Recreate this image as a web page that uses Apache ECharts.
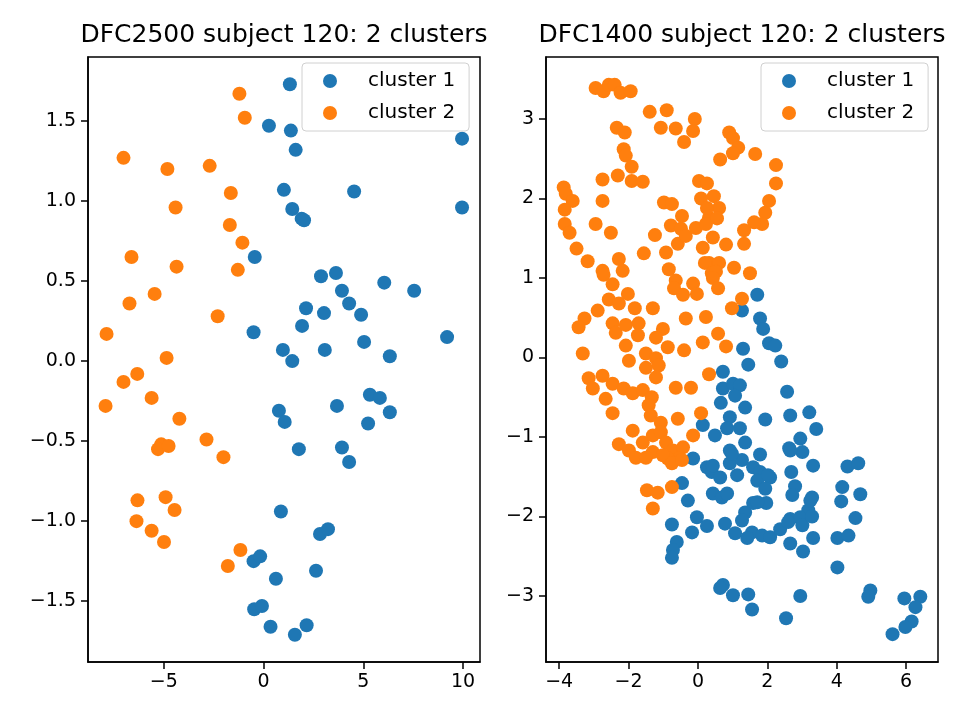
<!DOCTYPE html>
<html>
<head>
    <meta charset="utf-8">
    <title>DFC subject 120 clusters</title>
    <script src="https://cdn.jsdelivr.net/npm/echarts@6/dist/echarts.min.js"></script>
    <style>
        html, body { margin: 0; padding: 0; background: #fff; }
        #chart { width: 960px; height: 720px; }
    </style>
</head>
<body>
    <div id="chart"></div>
    <script>
        // DFC2500 panel
        var leftCluster1 = [[1.32,1.73],[0.27,1.47],[1.37,1.44],[1.61,1.32],[9.95,1.39],[1.02,1.07],[4.54,1.06],[1.44,0.95],[1.91,0.89],[2.03,0.88],[9.95,0.96],[-0.44,0.65],[2.88,0.53],[3.63,0.55],[3.93,0.44],[6.05,0.49],[7.55,0.44],[4.29,0.36],[2.13,0.33],[3.03,0.30],[4.89,0.29],[1.93,0.22],[9.20,0.15],[5.04,0.12],[-0.50,0.18],[0.97,0.07],[3.07,0.07],[6.33,0.03],[1.44,0.00],[5.33,-0.21],[5.83,-0.23],[3.68,-0.28],[6.33,-0.32],[5.24,-0.39],[0.77,-0.31],[1.06,-0.38],[1.77,-0.55],[3.93,-0.54],[4.29,-0.63],[0.87,-0.94],[2.83,-1.08],[3.23,-1.05],[2.63,-1.31],[-0.50,-1.25],[-0.17,-1.22],[0.62,-1.36],[-0.47,-1.55],[-0.08,-1.53],[0.35,-1.66],[2.16,-1.65],[1.57,-1.71]];
        var leftCluster2 = [[-1.21,1.67],[-0.94,1.52],[-7.02,1.27],[-4.82,1.20],[-2.70,1.22],[-1.64,1.05],[-4.41,0.96],[-1.69,0.85],[-1.06,0.74],[-6.62,0.65],[-4.36,0.59],[-1.29,0.57],[-5.46,0.42],[-6.72,0.36],[-2.30,0.28],[-7.87,0.17],[-4.86,0.02],[-6.33,-0.08],[-7.02,-0.13],[-5.61,-0.23],[-7.92,-0.28],[-4.22,-0.36],[-5.13,-0.52],[-5.29,-0.55],[-4.76,-0.53],[-2.86,-0.49],[-2.01,-0.60],[-6.32,-0.87],[-4.91,-0.85],[-4.46,-0.93],[-6.37,-1.00],[-5.61,-1.06],[-4.99,-1.13],[-1.16,-1.18],[-1.79,-1.28]];

        // DFC1400 panel
        var rightCluster1 = [[1.71,0.79],[1.27,0.59],[1.79,0.49],[1.88,0.36],[1.30,0.11],[2.05,0.18],[2.23,0.15],[1.45,-0.09],[2.40,-0.05],[0.72,-0.18],[0.72,-0.39],[1.01,-0.33],[1.21,-0.35],[1.07,-0.48],[0.66,-0.57],[1.36,-0.63],[0.92,-0.75],[1.94,-0.78],[2.57,-0.43],[2.66,-0.73],[3.21,-0.69],[3.41,-0.90],[0.14,-0.85],[0.49,-0.98],[0.84,-0.89],[1.21,-0.89],[1.36,-1.07],[0.92,-1.17],[2.95,-1.02],[2.63,-1.14],[3.01,-1.19],[1.79,-1.22],[-0.14,-1.27],[0.26,-1.38],[0.40,-1.44],[0.92,-1.33],[1.27,-1.29],[0.43,-1.36],[1.59,-1.38],[0.64,-1.51],[1.13,-1.48],[1.79,-1.44],[2.08,-1.51],[1.71,-1.55],[-0.46,-1.58],[0.98,-1.21],[2.66,-1.17],[3.32,-1.36],[4.31,-1.37],[4.62,-1.33],[2.69,-1.44],[2.02,-1.48],[2.80,-1.62],[4.16,-1.63],[4.68,-1.72],[1.94,-1.65],[2.72,-1.73],[3.29,-1.76],[4.13,-1.81],[1.59,-1.83],[1.97,-1.83],[3.18,-1.92],[4.54,-2.02],[1.36,-1.95],[2.66,-2.03],[0.43,-1.71],[0.69,-1.76],[0.84,-1.71],[-0.29,-1.80],[1.71,-1.82],[2.95,-2.01],[1.27,-2.05],[-0.03,-2.01],[0.78,-2.09],[-0.75,-2.10],[0.26,-2.12],[1.07,-2.21],[1.56,-2.20],[1.42,-2.27],[1.85,-2.24],[2.08,-2.26],[2.37,-2.16],[2.60,-2.07],[3.01,-2.11],[2.66,-2.34],[3.03,-2.44],[3.32,-2.27],[-0.17,-2.20],[-0.61,-2.32],[-0.72,-2.42],[-0.75,-2.52],[3.24,-1.80],[4.02,-2.27],[4.34,-2.24],[4.02,-2.64],[0.72,-2.86],[0.64,-2.90],[1.01,-2.99],[1.45,-2.98],[1.56,-3.17],[2.95,-3.00],[2.54,-3.28],[4.97,-2.93],[4.91,-3.01],[5.95,-3.03],[6.41,-3.01],[6.27,-3.14],[6.16,-3.32],[5.98,-3.39],[5.61,-3.48],[3.29,-2.00]];
        var rightCluster2 = [[-2.95,3.39],[-2.72,3.35],[-2.57,3.43],[-2.40,3.43],[-2.23,3.33],[-1.94,3.35],[-1.39,3.09],[-0.90,3.11],[-0.09,3.00],[-1.07,2.89],[-0.64,2.88],[-0.14,2.85],[-0.40,2.71],[-2.34,2.89],[-2.11,2.83],[-2.14,2.62],[-2.08,2.54],[-1.91,2.40],[-2.75,2.24],[-2.31,2.29],[-1.91,2.22],[-1.59,2.21],[-3.87,2.14],[-3.81,2.06],[-3.61,1.97],[-3.84,1.86],[-2.75,1.97],[-3.84,1.68],[-3.70,1.57],[-2.95,1.68],[-2.51,1.57],[-3.50,1.37],[-3.18,1.21],[-2.28,1.24],[-2.75,1.09],[-1.56,1.31],[-0.92,1.32],[-1.24,1.54],[-0.98,1.95],[-0.75,1.93],[-0.46,1.78],[-0.78,1.66],[-0.49,1.62],[-0.58,1.43],[-0.35,1.53],[-0.06,1.63],[0.03,2.22],[0.26,2.19],[0.09,2.00],[0.46,2.03],[0.61,1.88],[0.32,1.76],[0.23,1.68],[0.43,1.51],[0.14,1.38],[0.81,1.42],[0.32,1.19],[0.61,1.19],[1.04,1.13],[0.90,2.83],[1.01,2.76],[1.16,2.64],[1.01,2.57],[0.64,2.49],[1.33,1.60],[1.33,1.43],[1.65,2.56],[2.25,2.42],[2.25,2.19],[2.05,1.97],[1.94,1.82],[1.85,1.68],[1.62,1.70],[1.50,1.06],[1.27,0.74],[0.98,0.62],[0.26,1.88],[0.55,1.75],[0.20,1.19],[0.40,1.06],[-2.72,1.04],[-2.17,1.09],[-2.46,0.92],[-2.02,0.80],[-2.57,0.73],[-2.28,0.68],[-2.89,0.59],[-1.82,0.62],[-1.30,0.62],[-3.27,0.49],[-3.44,0.38],[-2.46,0.43],[-2.37,0.31],[-2.08,0.41],[-1.71,0.43],[-1.01,0.36],[-1.73,0.28],[-1.21,0.25],[-2.08,0.15],[-0.87,0.13],[-3.32,0.05],[-1.99,-0.04],[-1.50,0.05],[-1.21,-0.01],[-1.50,-0.13],[-1.13,-0.10],[-1.21,-0.25],[-3.15,-0.26],[-2.75,-0.23],[-3.03,-0.39],[-2.46,-0.33],[-2.14,-0.39],[-1.88,-0.45],[-1.59,-0.41],[-1.33,-0.50],[-2.66,-0.52],[-2.46,-0.70],[-1.42,-0.60],[-1.36,-0.73],[-1.07,-0.82],[-0.58,-0.77],[-0.64,-0.38],[-0.20,-0.38],[-0.35,0.49],[0.23,0.51],[0.58,0.30],[0.14,0.19],[0.81,0.14],[-0.40,0.09],[0.32,-0.21],[0.09,-0.70],[-0.14,-0.98],[-0.84,1.11],[-0.64,0.97],[-0.69,0.87],[-0.43,0.79],[-0.14,0.93],[-0.03,0.80],[0.52,1.08],[0.43,1.00],[0.58,0.87],[-1.88,-0.92],[-2.28,-1.09],[-1.99,-1.17],[-1.59,-1.07],[-1.30,-0.98],[-1.07,-0.94],[-0.92,-1.07],[-0.72,-1.17],[-0.43,-1.13],[-1.30,-1.19],[-0.55,-1.27],[-0.87,-1.27],[-1.79,-1.26],[-1.50,-1.26],[-1.01,-1.23],[-0.75,-1.33],[-0.46,-1.29],[-1.47,-1.67],[-1.16,-1.70],[-0.75,-1.63],[-1.30,-1.90]];

        // tick labels
        var leftXTicks = [-5, 0, 5, 10];
        var leftYTicks = [-1.5, -1.0, -0.5, 0.0, 0.5, 1.0, 1.5];
        var rightXTicks = [-4, -2, 0, 2, 4, 6];
        var rightYTicks = [-3, -2, -1, 0, 1, 2, 3];

        var titles = ['DFC2500 subject 120: 2 clusters', 'DFC1400 subject 120: 2 clusters'];
        var seriesNames = ['cluster 1', 'cluster 2'];

        var FONT = 'DejaVu Sans';
        var BLUE = '#1f77b4';
        var ORANGE = '#ff7f0e';

        function fmt(digits) {
            return function (v) {
                var s = Math.abs(v).toFixed(digits);
                return (v < 0 ? '\u2212' : '') + s;
            };
        }

        function xAxis(idx, min, max, ticks, digits) {
            return {
                type: 'value', gridIndex: idx, min: min, max: max,
                axisLine: { show: true, onZero: false, lineStyle: { color: '#000', width: 1.5 } },
                axisTick: { show: true, length: 7, lineStyle: { color: '#000', width: 1.5 }, customValues: ticks },
                axisLabel: { margin: 11, color: '#000', fontFamily: FONT, fontSize: 19, customValues: ticks, formatter: fmt(digits) },
                splitLine: { show: false }
            };
        }

        function yAxis(idx, min, max, ticks, digits) {
            return {
                type: 'value', gridIndex: idx, min: min, max: max,
                axisLine: { show: true, onZero: false, lineStyle: { color: '#000', width: 1.5 } },
                axisTick: { show: true, length: 7, lineStyle: { color: '#000', width: 1.5 }, customValues: ticks },
                axisLabel: { margin: 12, color: '#000', fontFamily: FONT, fontSize: 19, customValues: ticks, formatter: fmt(digits) },
                splitLine: { show: false }
            };
        }

        function legend(left) {
            return {
                orient: 'vertical', left: left, top: 63,
                data: seriesNames,
                icon: 'circle', itemWidth: 30, itemHeight: 14, itemGap: 12,
                padding: [8, 14, 8, 21],
                borderColor: '#d0d0d0', borderWidth: 1, borderRadius: 4,
                backgroundColor: 'rgba(255,255,255,0.8)',
                textStyle: { color: '#000', fontFamily: FONT, fontSize: 20, lineHeight: 20, padding: [0, 0, 0, 18] },
                selectedMode: false
            };
        }

        function scatter(name, xi, data, color) {
            return {
                name: name, type: 'scatter', xAxisIndex: xi, yAxisIndex: xi,
                data: data, symbolSize: 14,
                itemStyle: { color: color, opacity: 1 },
                emphasis: { disabled: true }
            };
        }

        var chart = echarts.init(document.getElementById('chart'));

        var option = {
            animation: false,
            backgroundColor: '#fff',
            graphic: [
                { type: 'text', x: 284, y: 35, style: { text: titles[0], font: '25px "DejaVu Sans"', fill: '#000', align: 'center', verticalAlign: 'middle', textAlign: 'center', textVerticalAlign: 'middle' } },
                { type: 'text', x: 742, y: 35, style: { text: titles[1], font: '25px "DejaVu Sans"', fill: '#000', align: 'center', verticalAlign: 'middle', textAlign: 'center', textVerticalAlign: 'middle' } }
            ],
            legend: [legend(302), legend(761)],
            grid: [
                { left: 88, right: 480, top: 57, bottom: 58, show: true, borderColor: '#000', borderWidth: 1.5, backgroundColor: 'transparent' },
                { left: 546, right: 22, top: 57, bottom: 58, show: true, borderColor: '#000', borderWidth: 1.5, backgroundColor: 'transparent' }
            ],
            xAxis: [
                xAxis(0, -8.8, 10.85, leftXTicks, 0),
                xAxis(1, -4.38, 6.92, rightXTicks, 0)
            ],
            yAxis: [
                yAxis(0, -1.88, 1.9, leftYTicks, 1),
                yAxis(1, -3.83, 3.78, rightYTicks, 0)
            ],
            series: [
                scatter(seriesNames[0], 0, leftCluster1, BLUE),
                scatter(seriesNames[1], 0, leftCluster2, ORANGE),
                scatter(seriesNames[0], 1, rightCluster1, BLUE),
                scatter(seriesNames[1], 1, rightCluster2, ORANGE)
            ]
        };
        chart.setOption(option);
    </script>
</body>
</html>
